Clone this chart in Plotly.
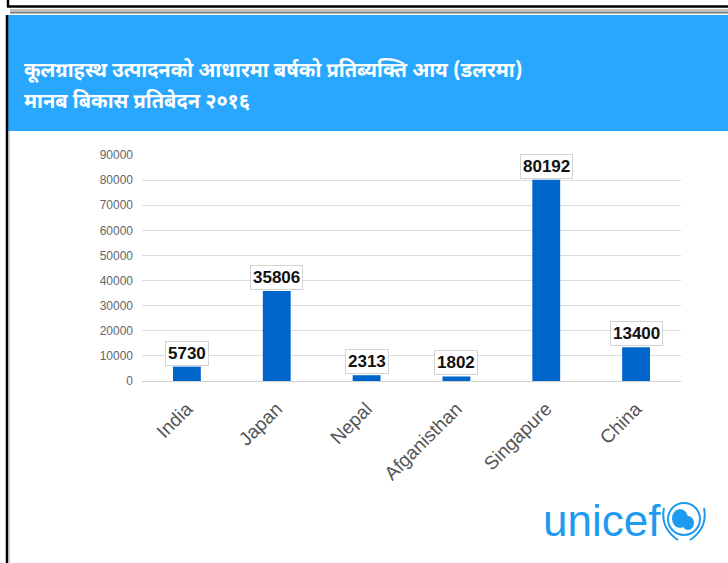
import plotly.graph_objects as go

countries = ["India", "Japan", "Nepal", "Afganisthan", "Singapure", "China"]
gdp_per_capita = [5730, 35806, 2313, 1802, 80192, 13400]
y_ticks = [0, 10000, 20000, 30000, 40000, 50000, 60000, 70000, 80000, 90000]
title_line1 = "कूलग्राहस्थ उत्पादनको आधारमा बर्षको प्रतिब्यक्ति आय (डलरमा)"
title_line2 = "मानब बिकास प्रतिबेदन २०१६"
logo_text = "unicef"

W, H = 728, 563
L, R, T, B = 142, 681, 155, 381


def px(x):
    return (x - L) / (R - L)


def py(y):
    return (B - y) / (B - T)


fig = go.Figure()
fig.add_trace(go.Bar(
    x=countries, y=gdp_per_capita,
    marker=dict(color="#0066CC", line=dict(width=0)),
    width=0.31, hoverinfo="skip",
))

annotations = []
for c, v in zip(countries, gdp_per_capita):
    annotations.append(dict(
        x=c, y=v, xref="x", yref="y", text=f"<b>{v}</b>", showarrow=False,
        xanchor="center", yanchor="bottom", yshift=1,
        font=dict(family="Liberation Sans, Arial", size=17, color="#111"),
        bgcolor="white", bordercolor="#d4d4d4", borderwidth=1, borderpad=2,
    ))

title_font = dict(family="Noto Sans Devanagari, Noto Sans, sans-serif", size=20, color="white")
annotations += [
    dict(x=px(22), y=py(71), xref="paper", yref="paper", xanchor="left", yanchor="middle",
         text=f"<b>{title_line1}</b>", showarrow=False, font=title_font),
    dict(x=px(22), y=py(102), xref="paper", yref="paper", xanchor="left", yanchor="middle",
         text=f"<b>{title_line2}</b>", showarrow=False, font=title_font),
    dict(x=px(541), y=py(520), xref="paper", yref="paper", xanchor="left", yanchor="middle",
         text=logo_text, showarrow=False,
         font=dict(family="Liberation Sans, Arial", size=44, color="#1E9BF0")),
]

blue = "#1E9BF0"
shapes = [
    # header band
    dict(type="rect", xref="paper", yref="paper", x0=px(8), x1=px(730), y0=py(131), y1=py(15),
         fillcolor="#29A7FE", line=dict(width=0), layer="below"),
    # top black line
    dict(type="line", xref="paper", yref="paper", x0=px(7), x1=px(730), y0=py(6.5), y1=py(6.5),
         line=dict(color="black", width=2.5)),
    dict(type="line", xref="paper", yref="paper", x0=px(8), x1=px(8), y0=py(-2), y1=py(7),
         line=dict(color="black", width=2.5)),
    # gray lines
    dict(type="line", xref="paper", yref="paper", x0=px(10), x1=px(730), y0=py(10), y1=py(10),
         line=dict(color="#c0c0c0", width=2)),
    dict(type="line", xref="paper", yref="paper", x0=px(10), x1=px(730), y0=py(12.5), y1=py(12.5),
         line=dict(color="#7a7a7a", width=2)),
    # left black border
    dict(type="line", xref="paper", yref="paper", x0=px(7), x1=px(7), y0=py(565), y1=py(15),
         line=dict(color="black", width=2.5)),
    dict(type="line", xref="paper", yref="paper", x0=px(9), x1=px(9), y0=py(565), y1=py(131),
         line=dict(color="#aaaaaa", width=1)),
    # unicef emblem (approximation)
    dict(type="circle", xref="paper", yref="paper", x0=px(668), x1=px(700), y0=py(535), y1=py(503),
         line=dict(color=blue, width=2), fillcolor="rgba(0,0,0,0)"),
    dict(type="circle", xref="paper", yref="paper", x0=px(672), x1=px(688), y0=py(528), y1=py(509),
         line=dict(width=0), fillcolor=blue),
    dict(type="circle", xref="paper", yref="paper", x0=px(682), x1=px(694), y0=py(530), y1=py(516),
         line=dict(width=0), fillcolor=blue),
    dict(type="path", xref="paper", yref="paper",
         path=f"M {px(664)} {py(508)} Q {px(660)} {py(528)} {px(678)} {py(540)}",
         line=dict(color=blue, width=2)),
    dict(type="path", xref="paper", yref="paper",
         path=f"M {px(704)} {py(508)} Q {px(708)} {py(528)} {px(690)} {py(540)}",
         line=dict(color=blue, width=2)),
]

fig.update_layout(
    width=W, height=H,
    margin=dict(l=L, r=W - R, t=T, b=H - B, autoexpand=False),
    paper_bgcolor="white", plot_bgcolor="white",
    showlegend=False, bargap=0.69,
    annotations=annotations, shapes=shapes,
    xaxis=dict(tickangle=-45, tickfont=dict(family="Liberation Sans, Arial", size=19, color="#555"),
               showgrid=False, showline=False, ticks="", ticklabelstandoff=12, fixedrange=True),
    yaxis=dict(range=[0, 90000], tickvals=y_ticks, ticktext=[str(t) for t in y_ticks],
               tickfont=dict(family="Liberation Sans, Arial", size=12, color="#666"),
               gridcolor="#dcdcdc", gridwidth=1, zeroline=True, zerolinecolor="#cfcfcf",
               zerolinewidth=1, showline=False, ticks="", ticklabelstandoff=8, fixedrange=True),
)

fig.write_html("out.html", config={"displayModeBar": False},
               post_script="document.body.style.margin='0';document.body.style.overflow='hidden';")
